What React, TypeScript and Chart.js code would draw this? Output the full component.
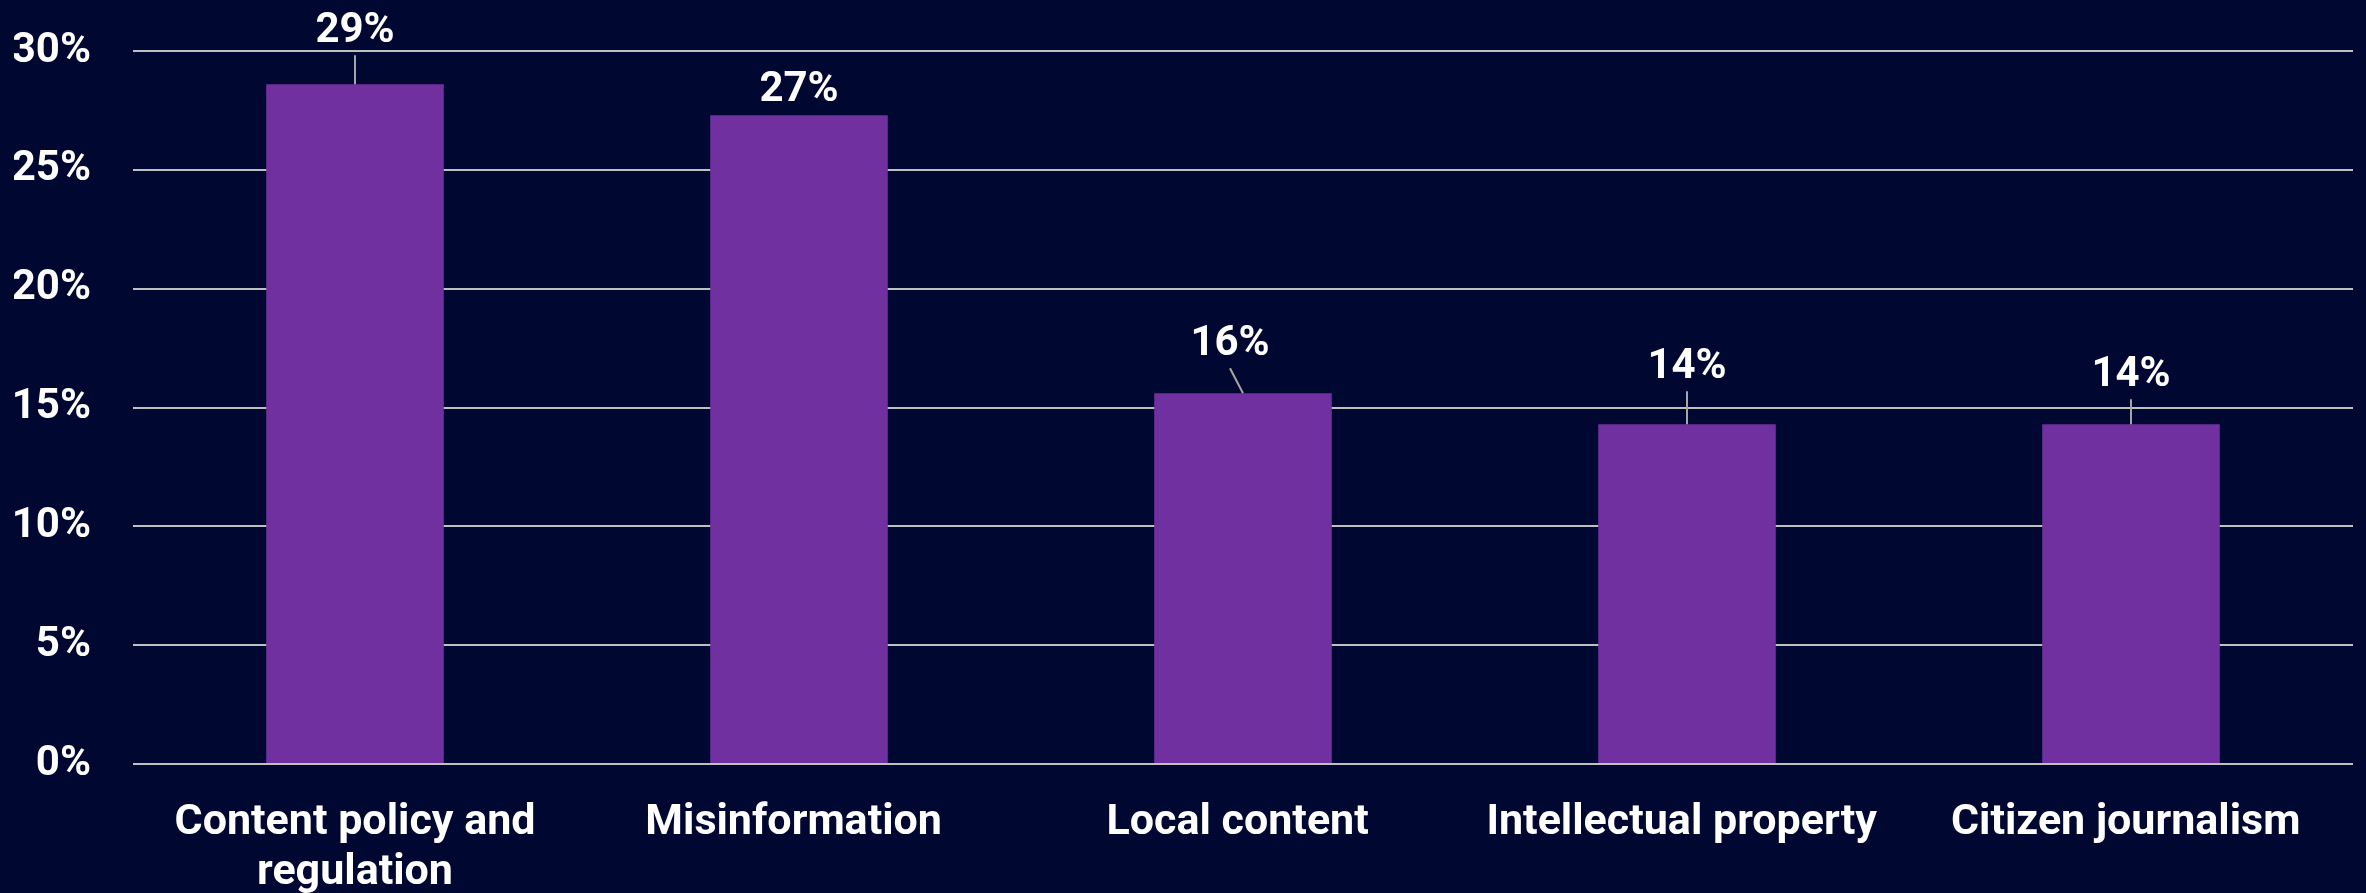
import React, { useEffect, useRef } from "react";
import { Chart, registerables } from "chart.js";

Chart.register(...registerables);

const categories: (string | string[])[] = [
  ["Content policy and", "regulation"],
  "Misinformation ",
  "Local content ",
  "Intellectual property ",
  "Citizen journalism ",
];
const values: number[] = [28.6, 27.3, 15.6, 14.3, 14.3];
const valueLabels: string[] = ["29%", "27%", "16%", "14%", "14%"];
const yTicks: number[] = [0, 5, 10, 15, 20, 25, 30];

const BG = "#000730";
const BAR = "#7030A0";
const GRID = "#BFBFBF";
const FONT = "Roboto";

// label callout offsets relative to the bar top centre (dx, dy of text centre)
const calloutOffsets: [number, number][] = [
  [0, -57],
  [0, -29],
  [-13, -53],
  [0, -61],
  [0, -53],
];

const calloutPlugin = {
  id: "callouts",
  afterDatasetsDraw(chart: any) {
    const ctx = chart.ctx;
    const meta = chart.getDatasetMeta(0);
    ctx.save();
    ctx.font = `bold 42px ${FONT}`;
    ctx.textAlign = "center";
    ctx.textBaseline = "alphabetic";
    meta.data.forEach((bar: any, i: number) => {
      const [dx, dy] = calloutOffsets[i];
      const lx = bar.x + dx;
      const ly = bar.y + dy;
      const startY = ly + 28;
      if (bar.y - startY > 2) {
        ctx.strokeStyle = "#A6A6A6";
        ctx.lineWidth = 2;
        ctx.beginPath();
        ctx.moveTo(lx, startY);
        ctx.lineTo(bar.x, bar.y);
        ctx.stroke();
      }
      ctx.fillStyle = "#FFFFFF";
      ctx.fillText(valueLabels[i], lx, ly + 15);
    });
    ctx.restore();
  },
};

export default function App() {
  const ref = useRef<HTMLCanvasElement | null>(null);
  useEffect(() => {
    if (!ref.current) return;
    const chart = new Chart(ref.current, {
      type: "bar",
      data: {
        labels: categories,
        datasets: [
          {
            data: values,
            backgroundColor: BAR,
            borderWidth: 0,
            barPercentage: 0.4,
            categoryPercentage: 1,
          },
        ],
      },
      options: {
        animation: false,
        responsive: true,
        maintainAspectRatio: false,
        layout: { padding: { left: 14, right: 13, top: 51, bottom: 0 } },
        plugins: {
          legend: { display: false },
          tooltip: { enabled: false },
        },
        scales: {
          x: {
            grid: { display: false },
            border: { display: false },
            afterFit: (axis: any) => {
              axis.height = 129;
              axis.paddingLeft = 0;
              axis.paddingRight = 0;
            },
            ticks: {
              color: "#FFFFFF",
              font: { family: FONT, size: 43, weight: "bold", lineHeight: 1.17 },
              padding: 26,
              maxRotation: 0,
              minRotation: 0,
              autoSkip: false,
            },
          },
          y: {
            min: 0,
            max: 30,
            afterBuildTicks: (axis: any) => {
              axis.ticks = yTicks.map((v) => ({ value: v }));
            },
            afterFit: (axis: any) => {
              axis.width = 119;
              axis.paddingTop = 0;
              axis.paddingBottom = 0;
            },
            grid: { color: GRID, lineWidth: 2, drawTicks: false },
            border: { display: false },
            ticks: {
              color: "#FFFFFF",
              font: { family: FONT, size: 42, weight: "bold" },
              padding: 42,
              callback: (v: any) => `${v}%`,
            },
          },
        },
      },
      plugins: [calloutPlugin],
    });
    return () => chart.destroy();
  }, []);
  return (
    <div
      style={{
        position: "absolute",
        left: 0,
        top: 0,
        width: 2366,
        height: 893,
        background: BG,
      }}
    >
      <canvas ref={ref} />
    </div>
  );
}
